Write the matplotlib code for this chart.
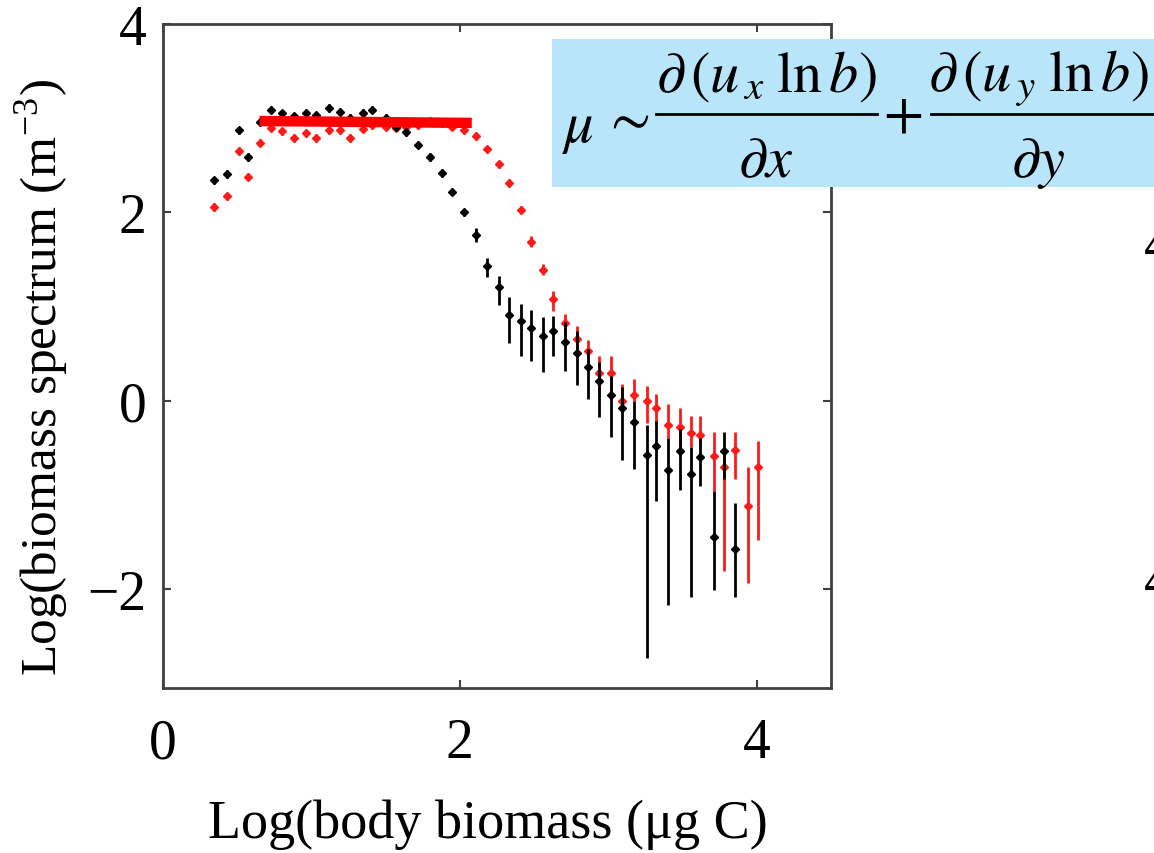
import matplotlib
matplotlib.use("Agg")
import matplotlib.pyplot as plt
from matplotlib.patches import Rectangle
from matplotlib.lines import Line2D

# body biomass bins (log), shared by both series
x_vals = [0.34, 0.43, 0.51, 0.57, 0.65, 0.73, 0.80, 0.88, 0.96, 1.03,
          1.12, 1.19, 1.26, 1.35, 1.41, 1.50, 1.57, 1.64, 1.72, 1.80,
          1.88, 1.95, 2.03, 2.11, 2.18, 2.26, 2.33, 2.41, 2.48, 2.56,
          2.63, 2.71, 2.79, 2.86, 2.94, 3.02, 3.09, 3.17, 3.26, 3.32,
          3.40, 3.48, 3.56, 3.62, 3.71, 3.78, 3.85, 3.94, 4.01]

black_y = [2.34, 2.41, 2.87, 2.59, 2.96, 3.09, 3.05, 3.02, 3.06, 3.03,
           3.11, 3.07, 3.00, 3.06, 3.09, 3.00, 2.91, 2.85, 2.72, 2.59,
           2.42, 2.22, 2.00, 1.76, 1.43, 1.21, 0.91, 0.85, 0.77, 0.69,
           0.74, 0.62, 0.51, 0.36, 0.21, 0.06, -0.08, -0.23, -0.58, -0.48,
           -0.73, -0.53, -0.78, -0.60, -1.45, -0.53, -1.57]
black_err_hi = [0.04] * 23 + [0.07, 0.09, 0.11, 0.19, 0.18, 0.19, 0.20,
                              0.16, 0.22, 0.23, 0.19, 0.20, 0.20, 0.23, 0.23, 0.32, 0.26,
                              0.33, 0.23, 0.29, 0.20, 0.49, 0.20, 0.48]
black_err_lo = [0.04] * 23 + [0.07, 0.12, 0.19, 0.30, 0.37, 0.35, 0.39,
                              0.27, 0.30, 0.34, 0.34, 0.38, 0.44, 0.55, 0.49, 2.15, 0.58,
                              1.44, 0.42, 1.30, 0.31, 0.56, 0.30, 0.51]

red_y = [2.06, 2.17, 2.65, 2.38, 2.74, 2.90, 2.86, 2.79, 2.84, 2.79,
         2.87, 2.87, 2.79, 2.89, 2.93, 2.91, 2.90, 2.91, 2.93, 2.97,
         2.95, 2.91, 2.87, 2.81, 2.67, 2.51, 2.31, 2.03, 1.69, 1.39,
         1.08, 0.83, 0.66, 0.53, 0.29, 0.29, 0.00, 0.06, 0.00, -0.08,
         -0.26, -0.28, -0.34, -0.36, -0.59, -0.70, -0.52, -1.12, -0.70]
red_err_hi = [0.04] * 28 + [0.06, 0.06, 0.09, 0.09, 0.13, 0.12, 0.19,
                            0.18, 0.18, 0.17, 0.16, 0.15, 0.23, 0.20, 0.18, 0.20, 0.26,
                            0.17, 0.19, 0.42, 0.27]
red_err_lo = [0.04] * 28 + [0.06, 0.06, 0.13, 0.14, 0.16, 0.15, 0.24,
                            0.22, 0.12, 0.06, 0.24, 0.18, 0.14, 0.21, 0.15, 0.12, 0.37,
                            1.11, 0.31, 0.81, 0.78]

fit_x = [0.65, 2.08]
fit_y = [2.97, 2.95]

# equation pieces, set by hand so the spacing follows the original slide
eq_lhs = r"$\mu$"
eq_rel = r"$\sim$"
eq_num_x = r"$\partial\,(u_{\,x}\;\ln b)$"
eq_den_x = r"$\partial x$"
eq_plus = r"$+$"
eq_num_y = r"$\partial\,(u_{\,y}\;\ln b)$"
eq_den_y = r"$\partial y$"

plt.rcParams["font.family"] = ["Liberation Serif", "DejaVu Serif"]
plt.rcParams["mathtext.fontset"] = "stix"

fig = plt.figure(figsize=(11.54, 8.54), dpi=100)
ax = fig.add_axes([0.1413, 0.1932, 0.5788, 0.7775])

n_black = len(black_y)
ax.errorbar(x_vals[:n_black], black_y, yerr=[black_err_lo, black_err_hi],
            fmt="D", ms=4.5, color="black", ecolor="black", elinewidth=2, capsize=0, zorder=3)
ax.errorbar(x_vals, red_y, yerr=[red_err_lo, red_err_hi],
            fmt="D", ms=4.5, color="#ff1a1a", ecolor="#ff1a1a", elinewidth=2, capsize=0, zorder=2)
ax.plot(fit_x, fit_y, color="#ff0000", linewidth=7.5, solid_capstyle="butt", zorder=4)

ax.set_xlim(0, 4.5)
ax.set_ylim(-3.05, 4.0)
ax.set_xticks([0, 2, 4])
ax.set_yticks([-2, 0, 2, 4])
ax.tick_params(direction="in", length=6, width=1.5, color="#404040",
               top=True, right=True, labelsize=40)
ax.tick_params(axis="x", pad=21)
ax.tick_params(axis="y", pad=12)
for s in ax.spines.values():
    s.set_color("#404040")
    s.set_linewidth(2)

fig.text(0.423, 0.034, "Log(body biomass (\u03bcg C)", fontsize=39, ha="center", va="center")
fig.text(0.036, 0.558, r"Log(biomass spectrum (m$^{\mathregular{-3}}$)", fontsize=37,
         rotation=90, ha="center", va="center")

# equation box, runs off the right edge
fig.patches.append(Rectangle((0.478, 0.780), 0.53, 0.173, transform=fig.transFigure,
                             facecolor="#b9e5fb", edgecolor="none", zorder=5))
fs = 42
fig.text(0.487, 0.834, eq_lhs, fontsize=fs, ha="left", va="baseline", zorder=6)
fig.text(0.5425, 0.858, eq_rel, fontsize=fs, ha="center", va="center", zorder=6)
fig.text(0.664, 0.893, eq_num_x, fontsize=fs, ha="center", va="baseline", zorder=6)
fig.text(0.664, 0.793, eq_den_x, fontsize=fs, ha="center", va="baseline", zorder=6)
fig.add_artist(Line2D([0.5685, 0.760], [0.865, 0.865], transform=fig.transFigure,
                      color="black", linewidth=2, zorder=6))
fig.text(0.7825, 0.863, eq_plus, fontsize=fs, ha="center", va="center", zorder=6)
fig.text(0.900, 0.893, eq_num_y, fontsize=fs, ha="center", va="baseline", zorder=6)
fig.text(0.900, 0.793, eq_den_y, fontsize=fs, ha="center", va="baseline", zorder=6)
fig.add_artist(Line2D([0.807, 1.0], [0.865, 0.865], transform=fig.transFigure,
                      color="black", linewidth=2, zorder=6))

# tick labels of the neighbouring panel, cut off at the edge
fig.text(0.991, 0.71, "4", fontsize=40, ha="left", va="center")
fig.text(0.991, 0.316, "4", fontsize=40, ha="left", va="center")

fig.savefig("out.png", dpi=100)
